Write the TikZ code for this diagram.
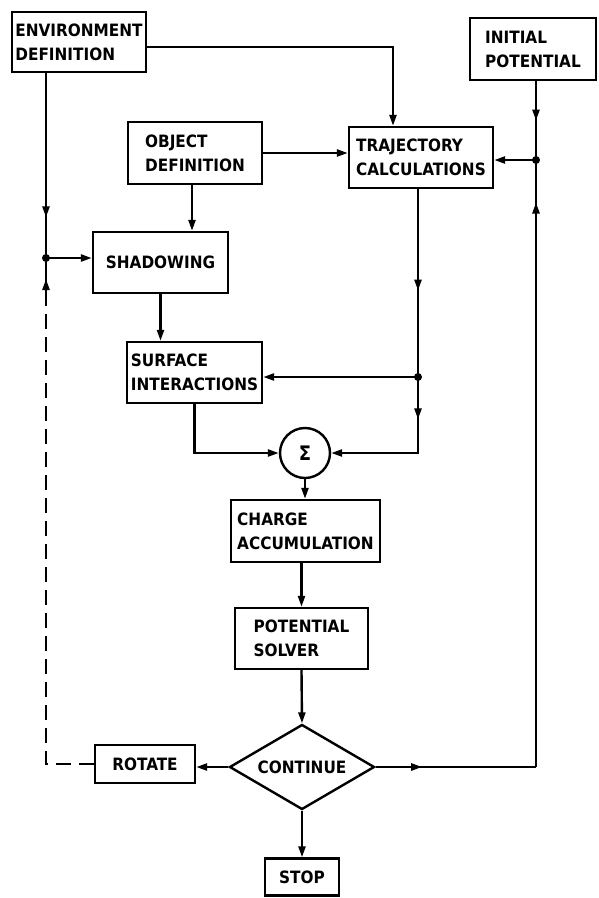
\documentclass[tikz,border=0pt]{standalone}
\usepackage{fontspec}
\setmainfont{DejaVu Sans Condensed}
\usetikzlibrary{arrows.meta,shapes.geometric,decorations.markings,calc}
\tikzset{
  box/.style={draw, rectangle, inner sep=2pt, align=left, font=\fontsize{17}{24}\selectfont\bfseries},
  marrow/.style={postaction={decorate,decoration={markings,mark=at position #1 with {\arrow{Triangle[length=11pt,width=7pt]}}}}},
  dashline/.style={dash pattern=on 15pt off 8pt},
  dot/.style={circle, fill, inner sep=0pt, minimum size=8pt}
}
\begin{document}
\begin{tikzpicture}[x=1pt,y=-1pt, line width=2.4pt, >={Triangle[length=11pt,width=7pt]}]
\useasboundingbox[fill=white] (0,0) rectangle (598,898);

\node[box, minimum width=134pt, minimum height=60pt] (env) at (79,42) {ENVIRONMENT\\DEFINITION};
\node[box, minimum width=134pt, minimum height=62pt] (obj) at (195,153) {OBJECT\\DEFINITION};
\node[box, minimum width=144pt, minimum height=61pt] (traj) at (421,157.5) {TRAJECTORY\\CALCULATIONS};
\node[box, minimum width=126pt, minimum height=62pt] (init) at (533,49) {INITIAL\\POTENTIAL};
\node[box, minimum width=135pt, minimum height=61pt] (shad) at (160.5,262.5) {SHADOWING};
\node[box, minimum width=135pt, minimum height=61pt] (surf) at (194.5,372.5) {SURFACE\\INTERACTIONS};
\node[draw, circle, minimum size=50pt, inner sep=0pt, font=\fontsize{20}{24}\selectfont\bfseries] (sig) at (305,453) {Σ};
\node[box, minimum width=149pt, minimum height=62pt] (charge) at (305.5,531) {CHARGE\\ACCUMULATION};
\node[box, minimum width=133pt, minimum height=61pt] (pot) at (301.5,638.5) {POTENTIAL\\SOLVER};
\node[draw, diamond, aspect=1.7, minimum width=145pt, minimum height=85pt, inner sep=0pt, font=\fontsize{17}{22}\selectfont\bfseries] (cont) at (302,767) {CONTINUE};
\node[box, minimum width=100pt, minimum height=38pt] (rot) at (145,764) {ROTATE};
\node[box, minimum width=74pt, minimum height=37pt] (stop) at (302,877) {STOP};

\coordinate (J1) at (46,258);
\coordinate (J2) at (536,160);
\coordinate (J3) at (418,377);
\coordinate (D) at (46,300);

% environment definition
\draw[->] ([yshift=-5pt]env.east) -| ([xshift=-28pt]traj.north);
\draw[marrow=0.78] (env.south -| J1) -- (J1);
\draw[->] (J1) -- (J1 -| shad.west);
% rotate loop
\draw[dashline] (rot.west) -| (D);
\draw[marrow=0.5] (D) -- (J1);
% object definition
\draw[->] ([xshift=-3pt]obj.south) -- ([xshift=-3pt]obj.south |- shad.north);
\draw[->] (obj.east) -- (obj.east -| traj.west);
% initial potential
\draw[marrow=0.5] (init.south -| J2) -- (J2);
\draw[->] (J2) -- (J2 -| traj.east);
\draw[marrow=0.29] (cont.east) -- (J2 |- cont.east);
\draw[marrow=0.93] (J2 |- cont.east) -- (J2);
% trajectory
\draw[marrow=0.54] (traj.south -| J3) -- (J3);
\draw[->] (J3) -- (J3 -| surf.east);
\draw[->, marrow=0.26] (J3) |- (sig.east);
% shadowing, surface
\draw[->] (shad.south) -- (shad.south |- surf.north);
\draw[->] (surf.south) |- (sig.west);
% main chain
\draw[->] (sig.south) -- (sig.south |- charge.north);
\draw[->] (pot.north |- charge.south) -- (pot.north);
\draw[->] (pot.south) -- (cont.north);
\draw[->] (cont.west) -- (cont.west -| rot.east);
\draw[->] (cont.south) -- (stop.north);

\node[dot] (d1) at (J1) {};
\node[dot] (d2) at (J2) {};
\node[dot] (d3) at (J3) {};
\end{tikzpicture}
\end{document}
